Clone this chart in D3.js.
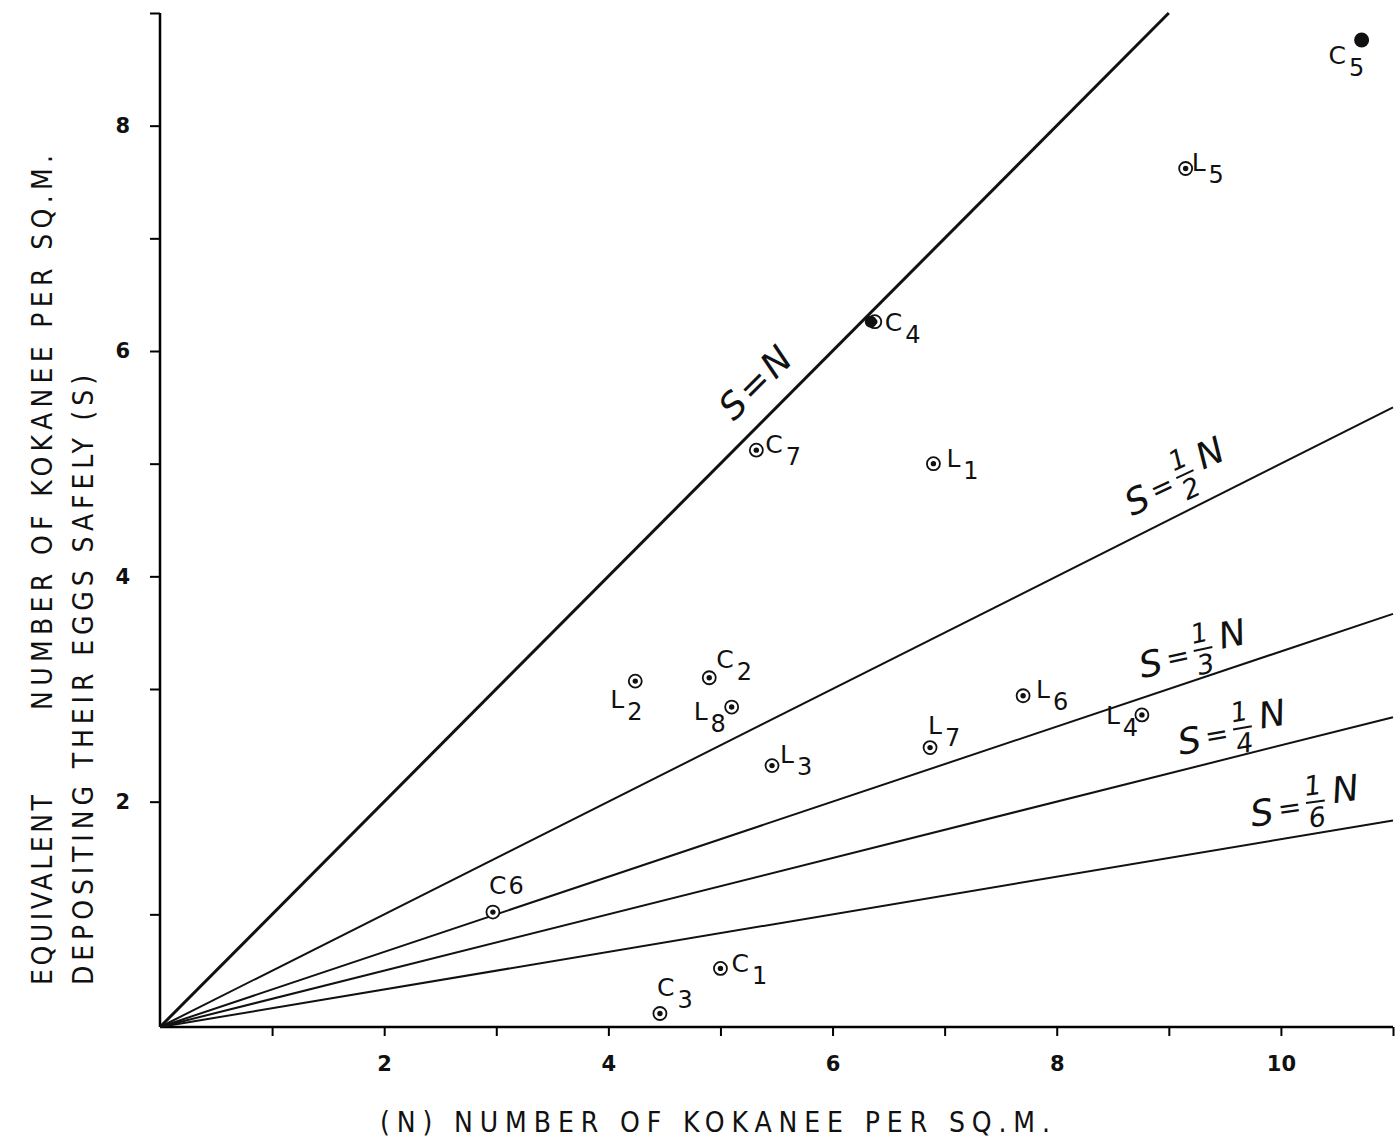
<!DOCTYPE html>
<html>
<head>
<meta charset="utf-8">
<script src="https://cdn.jsdelivr.net/npm/d3@7"></script>
<style>
  body { margin: 0; background: #fff; }
  svg { display: block; }
  .tick text { font-family: "DejaVu Sans", sans-serif; font-weight: bold; font-size: 21px; fill: #111; }
  .axis-title { font-family: "DejaVu Sans Condensed", "Liberation Sans Narrow", sans-serif; font-size: 28px; fill: #111; }
  .pt-label, .line-label { font-family: "DejaVu Sans", sans-serif; fill: #111; }
</style>
</head>
<body>
<div id="wrapper"></div>
<script>
// data
const pointNames = ["C1", "C2", "C3", "C4", "C5", "C6", "C7", "L1", "L2", "L3", "L4", "L5", "L6", "L7", "L8"]
const pointN     = [5.00, 4.90, 4.46, 6.35, 10.72, 2.97, 5.32, 6.90, 4.24, 5.46, 8.76, 9.15, 7.70, 6.87, 5.10]
const pointS     = [0.52, 3.10, 0.12, 6.26, 8.76, 1.02, 5.12, 5.00, 3.07, 2.32, 2.77, 7.62, 2.94, 2.48, 2.84]
const pointKind  = ["ring", "ring", "ring", "both", "solid", "ring", "ring", "ring", "ring", "ring", "ring", "ring", "ring", "ring", "ring"]

const lineRatios = [1, 1/2, 1/3, 1/4, 1/6]
const lineNumer  = [null, "1", "1", "1", "1"]
const lineDenom  = [null, "2", "3", "4", "6"]
const lineEndN   = [9, 11, 11, 11, 11]

const xTicks = [1, 2, 3, 4, 5, 6, 7, 8, 9, 10, 11]
const yTicks = [1, 2, 3, 4, 5, 6, 7, 8, 9]
const xLabelled = [2, 4, 6, 8, 10]
const yLabelled = [2, 4, 6, 8]

// label placement (px offsets from point), kept apart from the data
const labelPos = {
  C1: [11, -5, true], C2: [7, -19, true], C3: [-3, -26, true], C4: [13, 0, true],
  C5: [-33, 15, true], C6: [-4, -27, false], C7: [9, -6, true], L1: [13, -6, true],
  L2: [-25, 18, true], L3: [8, -12, true], L4: [-36, 0, true], L5: [6, -6, true],
  L6: [13, -7, true], L7: [-2, -23, true], L8: [-38, 4, true]
}
const lineLabelPos = [
  { n: 5.4, dy: -28, rot: -45 },
  { n: 9.05, dy: -36, rot: -25 },
  { n: 9.2, dy: -28, rot: -12 },
  { n: 9.55, dy: -26, rot: -10 },
  { n: 10.2, dy: -30, rot: -8 }
]

const width = 1398
const height = 1148

const svg = d3.select("#wrapper").append("svg")
  .attr("width", width)
  .attr("height", height)

const xScale = d3.scaleLinear().domain([0, 11]).range([160, 1393])
const yScale = d3.scaleLinear().domain([0, 9]).range([1027, 13])

// axes
const xAxis = svg.append("g")
  .attr("transform", `translate(0, ${yScale(0)})`)
  .call(d3.axisBottom(xScale)
    .tickValues(xTicks)
    .tickSize(9)
    .tickPadding(8)
    .tickFormat(d => xLabelled.includes(d) ? d : ""))
xAxis.select(".domain").attr("stroke-width", 2.5).attr("d", `M${xScale(0)},0H${xScale(11)}`)
xAxis.selectAll(".tick line").attr("stroke-width", 2)
xAxis.selectAll(".tick text").attr("dy", "1.3em")

const yAxis = svg.append("g")
  .attr("transform", `translate(${xScale(0)}, 0)`)
  .call(d3.axisLeft(yScale)
    .tickValues(yTicks)
    .tickSize(10)
    .tickPadding(20)
    .tickFormat(d => yLabelled.includes(d) ? d : ""))
yAxis.select(".domain").attr("stroke-width", 2.5).attr("d", `M0,${yScale(0)}V${yScale(9)}`)
yAxis.selectAll(".tick line").attr("stroke-width", 2)

// S = kN lines
const lineGen = d3.line().x(d => xScale(d[0])).y(d => yScale(d[1]))
lineRatios.forEach((k, i) => {
  svg.append("path")
    .attr("d", lineGen([[0, 0], [lineEndN[i], lineEndN[i] * k]]))
    .attr("fill", "none")
    .attr("stroke", "#111")
    .attr("stroke-width", i == 0 ? 3 : 2)
})

// line labels
lineRatios.forEach((k, i) => {
  const p = lineLabelPos[i]
  const g = svg.append("g")
    .attr("class", "line-label")
    .attr("transform", `translate(${xScale(p.n)}, ${yScale(p.n * k) + p.dy}) rotate(${p.rot})`)
  if (lineNumer[i] == null) {
    g.append("text")
      .attr("text-anchor", "middle")
      .attr("font-size", 36)
      .attr("font-style", "italic")
      .attr("letter-spacing", 3)
      .text("S=N")
    return
  }
  g.append("text").attr("x", -42).attr("y", 14).attr("font-size", 36).attr("font-style", "italic")
    .attr("text-anchor", "middle").text("S")
  g.append("text").attr("x", -14).attr("y", 10).attr("font-size", 28)
    .attr("text-anchor", "middle").text("=")
  g.append("text").attr("x", 12).attr("y", -9).attr("font-size", 27).attr("font-style", "italic")
    .attr("text-anchor", "middle").text(lineNumer[i])
  g.append("line").attr("x1", 3).attr("x2", 22).attr("y1", -2).attr("y2", -2)
    .attr("stroke", "#111").attr("stroke-width", 2)
  g.append("text").attr("x", 12).attr("y", 23).attr("font-size", 27).attr("font-style", "italic")
    .attr("text-anchor", "middle").text(lineDenom[i])
  g.append("text").attr("x", 44).attr("y", 2).attr("font-size", 36).attr("font-style", "italic")
    .attr("text-anchor", "middle").text("N")
})

// points
pointNames.forEach((name, i) => {
  const cx = xScale(pointN[i])
  const cy = yScale(pointS[i])
  const kind = pointKind[i]
  if (kind == "ring" || kind == "both") {
    svg.append("circle").attr("cx", kind == "both" ? cx + 3 : cx).attr("cy", cy).attr("r", 6.5)
      .attr("fill", "#fff").attr("stroke", "#111").attr("stroke-width", 1.8)
    svg.append("circle").attr("cx", kind == "both" ? cx + 3 : cx).attr("cy", cy).attr("r", 2.7).attr("fill", "#111")
  }
  if (kind == "solid") {
    svg.append("circle").attr("cx", cx).attr("cy", cy).attr("r", 7.5).attr("fill", "#111")
  }
  if (kind == "both") {
    svg.append("circle").attr("cx", cx - 1).attr("cy", cy).attr("r", 6).attr("fill", "#111")
  }

  const [dx, dy, sub] = labelPos[name]
  const t = svg.append("text")
    .attr("class", "pt-label")
    .attr("x", cx + dx)
    .attr("y", cy + dy + 9)
    .attr("font-size", 25)
  t.append("tspan").text(name[0])
  t.append("tspan")
    .attr("dx", sub ? 3 : 2)
    .attr("dy", sub ? 12 : 0)
    .attr("font-size", 24)
    .text(name.slice(1))
})

// axis titles
svg.append("text")
  .attr("class", "axis-title")
  .attr("x", 380)
  .attr("y", 1132)
  .attr("textLength", 670)
  .attr("lengthAdjust", "spacing")
  .text("(N) NUMBER OF KOKANEE PER SQ.M.")

const yTitle1 = svg.append("g").attr("transform", "translate(52, 0) rotate(-90)")
yTitle1.append("text").attr("class", "axis-title")
  .attr("x", -985).attr("y", 0)
  .attr("textLength", 190).attr("lengthAdjust", "spacing")
  .text("EQUIVALENT")
yTitle1.append("text").attr("class", "axis-title")
  .attr("x", -710).attr("y", 0)
  .attr("textLength", 555).attr("lengthAdjust", "spacing")
  .text("NUMBER OF KOKANEE PER SQ.M.")

const yTitle2 = svg.append("g").attr("transform", "translate(93, 0) rotate(-90)")
yTitle2.append("text").attr("class", "axis-title")
  .attr("x", -985).attr("y", 0)
  .attr("textLength", 610).attr("lengthAdjust", "spacing")
  .text("DEPOSITING THEIR EGGS SAFELY  (S)")
</script>
</body>
</html>
